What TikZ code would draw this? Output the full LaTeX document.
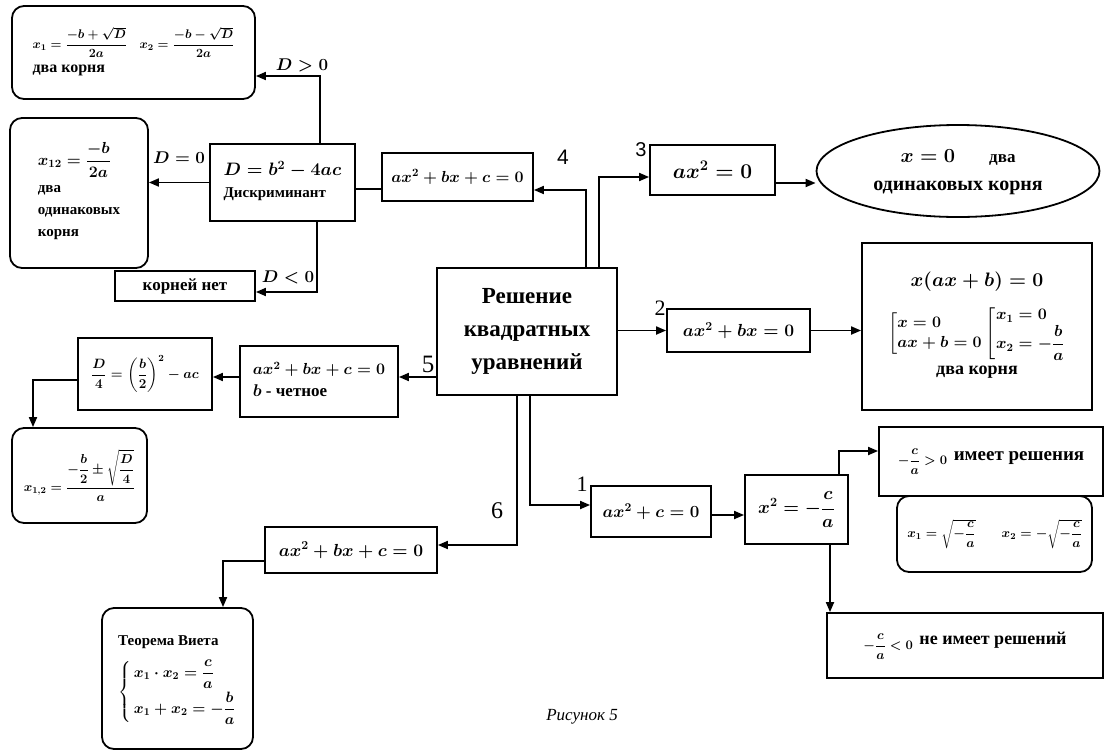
\RequirePackage{fix-cm}
\documentclass[tikz,border=0pt]{standalone}
\usepackage{amsmath}
\usepackage{fontspec}
\setmainfont{Liberation Serif}
\newfontfamily\sansf{Liberation Sans}
\usetikzlibrary{arrows.meta,shapes.geometric,calc}
\newcommand{\fs}[1]{\fontsize{#1}{#1}\selectfont}
\newcommand{\fsl}[2]{\fontsize{#1}{#2}\selectfont}
\tikzset{
  ln/.style={line width=1.8pt},
  arr/.style={line width=1.8pt,-{Triangle[length=10pt,width=8pt]}},
  bx/.style={draw,line width=1.8pt,rectangle,inner sep=0pt},
  rbx/.style={bx,rounded corners=12pt},
  lbl/.style={inner sep=0pt},
}
\begin{document}
\boldmath
\begin{tikzpicture}[x=1pt,y=-1pt]
\useasboundingbox (0,0) rectangle (1105,753);
% boxes
\node[rbx,minimum width=243pt,minimum height=93pt,font=\fsl{16}{20}] (r1) at (133.5,52.5)
 {\begin{tabular}{@{}l@{}}\fs{12.5}$x_1=\dfrac{-b+\sqrt{D}}{2a}\quad x_2=\dfrac{-b-\sqrt{D}}{2a}$\\[4pt]\bfseries два корня\end{tabular}};
\node[rbx,minimum width=138pt,minimum height=150pt,font=\fsl{15}{22}] (r2) at (79,193)
 {\begin{tabular}{@{}l@{}}\fs{16}$x_{12}=\dfrac{-b}{2a}$\\[4pt]\bfseries два\\\bfseries одинаковых\\\bfseries корня\end{tabular}};
\node[bx,minimum width=145pt,minimum height=77pt,font=\fsl{15}{20}] (D) at (282.5,182.5)
 {\begin{tabular}{@{}l@{}}\fs{18}$D=b^2-4ac$\\[2pt]\bfseries Дискриминант\end{tabular}};
\node[bx,minimum width=140pt,minimum height=30pt,font=\fs{17}\bfseries] (kn) at (185,286)
 {корней нет};
\node[bx,minimum width=151pt,minimum height=48pt,font=\fs{16}] (eq4) at (457.5,177)
 {$ax^2+bx+c=0$};
\node[bx,minimum width=125pt,minimum height=50pt,font=\fs{21}] (eq3) at (712.5,170)
 {$ax^2=0$};
\node[draw,ellipse,line width=1.8pt,inner sep=0pt,minimum width=283pt,minimum height=92pt,font=\fsl{20}{26}] (ell) at (958,171)
 {\begin{tabular}{@{}c@{}}\fs{20}$x=0$\hspace{34pt}\fs{17}\bfseries два\\[2pt]\bfseries одинаковых корня\end{tabular}};
\node[bx,minimum width=180pt,minimum height=127pt,align=center,font=\fsl{23}{33}\bfseries] (main) at (527,331.5)
 {Решение\\квадратных\\уравнений};
\node[bx,minimum width=143pt,minimum height=43pt,font=\fs{17.5}] (eq2) at (738.5,330.5)
 {$ax^2+bx=0$};
\node[bx,minimum width=230pt,minimum height=167pt,font=\fsl{16}{20}] (big) at (977,326.5)
 {\begin{tabular}{@{}c@{}}\fs{19.5}$x(ax+b)=0$\\[13pt]
  $\left[\begin{array}{@{}l@{}}x=0\\ ax+b=0\end{array}\right.\left[\begin{array}{@{}l@{}}x_1=0\\ x_2=-\dfrac{b}{a}\end{array}\right.$\\[14pt]
  \fs{18}\bfseries два корня\end{tabular}};
\node[bx,minimum width=158pt,minimum height=71pt,font=\fsl{16}{22}] (eq5) at (319,381.5)
 {\begin{tabular}{@{}l@{}}$ax^2+bx+c=0$\\\fs{17}\bfseries$b$ - четное\end{tabular}};
\node[bx,minimum width=134pt,minimum height=72pt,font=\fs{13.5}] (d4) at (145,374)
 {$\dfrac{D}{4}=\left(\dfrac{b}{2}\right)^2-ac$};
\node[rbx,minimum width=135pt,minimum height=95pt,font=\fs{13}] (r3) at (79.5,475.5)
 {$x_{1,2}=\dfrac{-\dfrac{b}{2}\pm\sqrt{\dfrac{D}{4}}}{a}$};
\node[bx,minimum width=172pt,minimum height=46pt,font=\fs{17.5}] (eq6) at (351,550)
 {$ax^2+bx+c=0$};
\node[rbx,minimum width=151pt,minimum height=141pt,font=\fsl{15}{19}] (viet) at (177.5,678.5)
 {\begin{tabular}{@{}l@{}}\bfseries Теорема Виета\\[8pt]
  \fs{15}$\left\{\,\begin{array}{@{}l@{}}x_1\cdot x_2=\dfrac{c}{a}\\[10pt] x_1+x_2=-\dfrac{b}{a}\end{array}\right.$\end{tabular}};
\node[bx,minimum width=120pt,minimum height=51pt,font=\fs{17}] (eq1) at (651,511.5)
 {$ax^2+c=0$};
\node[bx,minimum width=103pt,minimum height=69pt,font=\fs{18}] (xsq) at (796.5,509.5)
 {$x^2=-\dfrac{c}{a}$};
\node[bx,minimum width=224pt,minimum height=69pt,font=\fs{13}] (pos) at (991,461.5)
 {$-\dfrac{c}{a}>0$\enspace\fs{19}\bfseries\raisebox{4pt}{имеет решения}};
\node[rbx,minimum width=195pt,minimum height=76pt,font=\fs{13}] (posr) at (994.5,534)
 {$x_1=\sqrt{-\dfrac{c}{a}}\qquad x_2=-\sqrt{-\dfrac{c}{a}}$};
\node[bx,minimum width=276pt,minimum height=65pt,font=\fs{13}] (neg) at (965,645.5)
 {\raisebox{6pt}{$-\dfrac{c}{a}<0$\enspace\fs{18}\bfseries\raisebox{5pt}{не имеет решений}}};
% connectors
\draw[arr] ([xshift=37.5pt]D.north) |- ([yshift=-23.5pt]r1.east);
\draw[arr] (D.west) -- (D.west -| r2.east);
\draw[arr] ([xshift=34.5pt]D.south) |- ([yshift=-6pt]kn.east);
\draw[ln] ([yshift=-6.5pt]D.east) -- ([yshift=-6.5pt]D.east -| eq4.west);
\draw[arr] ([xshift=59pt]main.north) |- ([yshift=-13pt]eq4.east);
\draw[arr] ([xshift=72pt]main.north) |- ([yshift=-7pt]eq3.west);
\draw[arr] ([yshift=-13pt]eq3.east) -- ([yshift=-12pt]ell.west);
\draw[arr] (main.east |- eq2.west) -- (eq2.west);
\draw[arr] (eq2.east) -- (eq2.east -| big.west);
\draw[arr] ([yshift=4.5pt]eq5.east -| main.west) -- ([yshift=4.5pt]eq5.east);
\draw[arr] ([yshift=4.5pt]eq5.west) -- ([yshift=4.5pt]eq5.west -| d4.east);
\draw[arr] ([yshift=-6pt]d4.west) -| ([xshift=-46.5pt]r3.north);
\draw[arr] ([xshift=-10pt]main.south) |- ([yshift=5pt]eq6.east);
\draw[arr] ([xshift=3pt]main.south) |- ([yshift=6.5pt]eq1.west);
\draw[arr] ([yshift=-11pt]eq6.west) -| ([xshift=45.5pt]viet.north);
\draw[arr] ([yshift=-3.5pt]eq1.east) -- ([yshift=-3.5pt]eq1.east -| xsq.west);
\draw[arr] ([xshift=42.5pt]xsq.north) |- ([yshift=10.5pt]pos.west);
\draw[arr] ([xshift=33.5pt]xsq.south) -- ([xshift=33.5pt]xsq.south |- neg.north);
% labels
\node[lbl,font=\fs{17}] (lD1) at (302,65) {$D>0$};
\node[lbl,font=\fs{17}] (lD2) at (179,158) {$D=0$};
\node[lbl,font=\fs{17}] (lD3) at (288,277) {$D<0$};
\node[lbl,font=\fs{21}\sansf] (n4) at (563,157) {4};
\node[lbl,font=\fs{20}\sansf] (n3) at (641,150) {3};
\node[lbl,font=\fs{22}] (n2) at (660,308) {2};
\node[lbl,font=\fs{25}] (n5) at (428,364) {5};
\node[lbl,font=\fs{22}] (n1) at (582,484) {1};
\node[lbl,font=\fs{24}] (n6) at (497,511) {6};
\node[lbl,font=\fs{17}\itshape] (cap) at (582,717) {Рисунок 5};
\end{tikzpicture}
\end{document}
